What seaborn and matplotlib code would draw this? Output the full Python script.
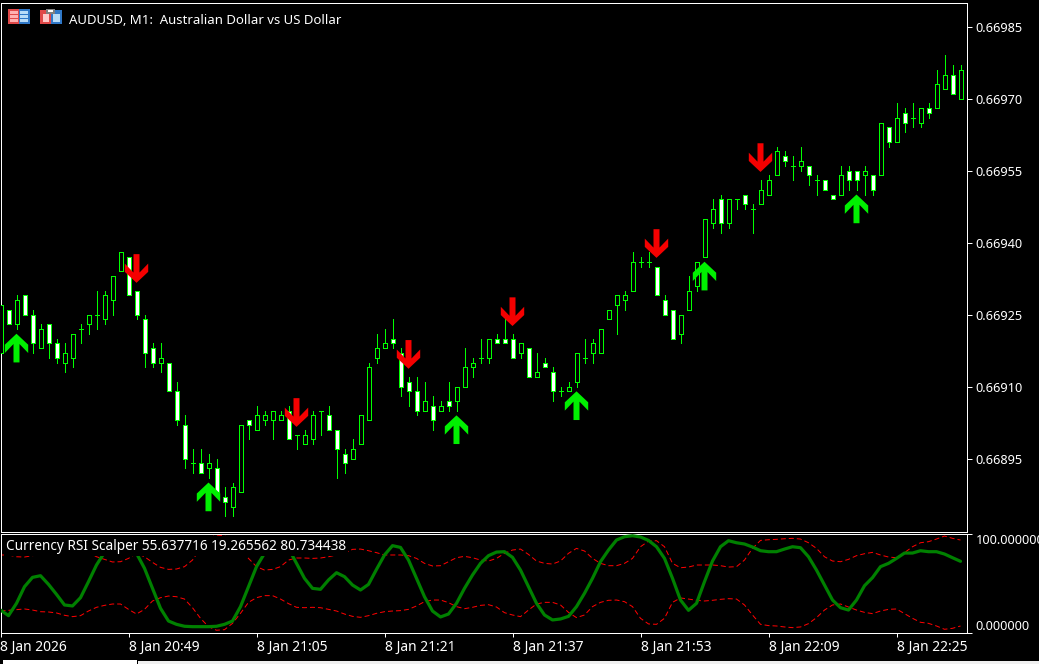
import matplotlib
matplotlib.use("Agg")
import matplotlib.pyplot as plt
import numpy as np
import pandas as pd
import seaborn as sns
from matplotlib.patches import Rectangle
from matplotlib.path import Path
from matplotlib.transforms import ScaledTranslation

# Candle data, in points (1 point = 0.00001)
opens = [66917, 66926, 66923, 66929, 66925, 66918, 66923, 66919, 66915, 66916, 66922,
         66923, 66925, 66924, 66928, 66934, 66937, 66930, 66924, 66918, 66915,
         66915, 66909, 66902, 66894, 66894, 66893, 66893, 66887, 66885, 66888,
         66903, 66901, 66903, 66903, 66903, 66905, 66900, 66898, 66899, 66905,
         66904, 66901, 66896, 66895, 66898, 66903, 66916, 66918, 66920, 66917,
         66911, 66909, 66905, 66906, 66905, 66907, 66907, 66910, 66914, 66916,
         66916, 66920, 66920, 66920, 66917, 66918, 66912, 66915, 66913, 66909,
         66909, 66911, 66916, 66917, 66917, 66924, 66927, 66928, 66930, 66936,
         66936, 66935, 66928, 66926, 66921, 66926, 66931, 66937, 66944, 66949,
         66944, 66949, 66950, 66947, 66948, 66950, 66954, 66958, 66956, 66956,
         66956, 66953, 66953, 66950, 66950, 66955, 66955, 66954, 66954, 66954,
         66964, 66961, 66967, 66966, 66965, 66968, 66968, 66972, 66975, 66970]
highs = [66927, 66926, 66929, 66929, 66926, 66923, 66923, 66920, 66919, 66921, 66923,
         66925, 66930, 66930, 66933, 66938, 66937, 66930, 66925, 66919, 66919,
         66915, 66911, 66904, 66897, 66897, 66896, 66895, 66889, 66890, 66902,
         66903, 66906, 66905, 66905, 66905, 66906, 66900, 66901, 66905, 66905,
         66906, 66901, 66897, 66899, 66904, 66915, 66921, 66922, 66924, 66918,
         66912, 66912, 66911, 66908, 66907, 66911, 66910, 66918, 66916, 66920,
         66920, 66921, 66924, 66921, 66919, 66918, 66917, 66916, 66914, 66910,
         66911, 66917, 66920, 66920, 66922, 66926, 66929, 66930, 66938, 66937,
         66938, 66935, 66929, 66926, 66925, 66933, 66936, 66945, 66949, 66950,
         66949, 66949, 66950, 66948, 66953, 66954, 66960, 66959, 66958, 66960,
         66956, 66954, 66953, 66950, 66956, 66956, 66955, 66956, 66954, 66965,
         66964, 66969, 66968, 66969, 66968, 66969, 66976, 66979, 66977, 66977]
lows = [66917, 66923, 66922, 66925, 66917, 66918, 66916, 66915, 66913, 66914, 66919,
        66921, 66922, 66923, 66925, 66934, 66929, 66924, 66914, 66914, 66913,
        66909, 66902, 66893, 66892, 66892, 66891, 66888, 66883, 66883, 66888,
        66899, 66901, 66902, 66899, 66903, 66899, 66897, 66898, 66898, 66900,
        66901, 66891, 66892, 66895, 66898, 66903, 66915, 66918, 66918, 66908,
        66906, 66904, 66905, 66901, 66905, 66905, 66905, 66910, 66912, 66915,
        66915, 66919, 66919, 66916, 66916, 66912, 66912, 66914, 66907, 66908,
        66909, 66910, 66915, 66915, 66917, 66924, 66921, 66926, 66930, 66935,
        66935, 66929, 66925, 66920, 66919, 66926, 66930, 66937, 66943, 66942,
        66943, 66947, 66947, 66942, 66948, 66950, 66954, 66956, 66953, 66955,
        66952, 66950, 66951, 66949, 66950, 66951, 66951, 66950, 66950, 66954,
        66960, 66961, 66963, 66964, 66964, 66966, 66968, 66972, 66971, 66970]
closes = [66927, 66923, 66928, 66925, 66919, 66922, 66919, 66916, 66917, 66921, 66922,
          66925, 66925, 66929, 66933, 66938, 66929, 66925, 66917, 66915, 66916,
          66909, 66903, 66895, 66894, 66892, 66894, 66888, 66886, 66889, 66902,
          66902, 66904, 66904, 66905, 66904, 66899, 66900, 66900, 66904, 66905,
          66901, 66897, 66894, 66897, 66904, 66914, 66918, 66919, 66919, 66910,
          66909, 66905, 66907, 66903, 66906, 66906, 66910, 66914, 66915, 66916,
          66920, 66919, 66919, 66916, 66919, 66912, 66913, 66914, 66909, 66909,
          66910, 66917, 66916, 66919, 66922, 66926, 66929, 66929, 66936, 66936,
          66936, 66929, 66925, 66920, 66925, 66930, 66936, 66945, 66947, 66944,
          66949, 66949, 66948, 66947, 66951, 66953, 66959, 66957, 66956, 66957,
          66954, 66953, 66951, 66949, 66954, 66953, 66953, 66955, 66951, 66965,
          66961, 66966, 66965, 66966, 66968, 66967, 66973, 66975, 66971, 66976]

# Signal arrows: bar index and the price of the arrow tip
up_bars = [2, 26, 57, 72, 88, 107]
up_tips = [66921, 66890, 66904, 66909, 66936, 66950]
down_bars = [17, 37, 51, 64, 82, 95]
down_tips = [66931.6, 66901.6, 66913.7, 66922.6, 66936.8, 66954.7]

# Currency RSI Scalper
rsi = [22.9, 17.1, 29.8, 46.9, 56.5, 58.2, 49.3, 39.0, 28.1, 27.1, 35.6,
       52.1, 69.2, 82.2, 89.1, 91.4, 89.7, 81.2, 65.8, 45.2, 24.7,
       11.6, 8.2, 6.2, 5.8, 5.8, 5.8, 6.2, 8.2, 11.6, 26.4,
       46.9, 67.5, 81.2, 91.4, 94.9, 86.3, 70.9, 55.5, 45.2, 44.2,
       53.8, 61.3, 57.2, 48.6, 43.5, 49.3, 64.7, 79.5, 89.1, 87.3,
       74.3, 55.5, 36.6, 21.9, 15.8, 18.8, 29.8, 45.2, 58.9, 70.9,
       78.8, 82.5, 82.9, 77.1, 64.0, 46.9, 29.8, 17.8, 12.7, 13.7,
       16.4, 26.4, 40.1, 55.5, 72.6, 84.6, 94.9, 98.3, 99.3, 98.0,
       94.5, 88.0, 76.0, 55.5, 33.2, 22.6, 29.8, 52.1, 73.3, 88.0,
       94.2, 92.1, 90.8, 87.7, 83.9, 82.9, 82.9, 85.6, 88.0, 87.0,
       77.7, 64.0, 48.6, 33.2, 25.3, 22.9, 33.2, 47.9, 56.2, 67.5,
       70.9, 76.0, 81.5, 81.5, 83.9, 82.9, 82.9, 80.5, 76.7, 73.0]
band_upper = [79.5, 79.5, 77.7, 77.4, 78.8, 80.1, 80.1, 80.1, 82.9, 83.6, 83.6,
              82.2, 77.7, 75.0, 72.3, 72.6, 76.0, 81.2, 77.7, 71.9, 66.8,
              64.7, 65.1, 67.5, 74.3, 86.3, 96.6, 100.0, 99.3, 93.2, 84.6,
              76.0, 67.5, 64.0, 64.7, 67.5, 74.3, 76.4, 76.4, 76.0, 76.4,
              77.7, 79.5, 81.2, 85.3, 85.6, 83.9, 81.9, 79.5, 79.5, 79.5,
              78.8, 76.0, 70.9, 68.2, 68.5, 72.6, 76.7, 78.1, 76.7, 74.3,
              73.3, 76.0, 81.2, 84.6, 85.6, 80.1, 73.3, 70.9, 70.2, 73.3,
              81.2, 86.3, 83.6, 76.0, 70.9, 68.5, 68.5, 70.9, 76.0, 88.0,
              93.8, 94.2, 88.0, 70.9, 66.4, 67.1, 69.2, 69.2, 69.2, 68.5,
              67.1, 67.5, 74.3, 86.3, 94.5, 95.2, 95.6, 96.2, 96.6, 95.9,
              92.1, 86.3, 77.7, 73.3, 72.6, 75.0, 78.8, 80.8, 82.2, 79.5,
              77.4, 76.7, 81.9, 88.0, 92.1, 93.2, 95.9, 99.0, 96.6, 94.9]
band_lower = [21.9, 22.6, 23.3, 24.0, 22.9, 21.2, 20.9, 19.9, 17.5, 16.1, 17.1,
              21.9, 25.7, 27.7, 29.1, 29.1, 23.6, 18.8, 23.6, 32.2, 35.6,
              37.3, 36.6, 34.2, 25.3, 14.4, 5.8, 2.1, 2.7, 9.2, 19.5,
              30.8, 35.6, 37.7, 37.7, 34.2, 29.5, 25.7, 25.3, 25.7, 25.3,
              23.6, 21.9, 18.8, 16.4, 15.4, 17.1, 19.5, 21.2, 21.9, 22.3,
              23.6, 27.1, 31.5, 33.2, 33.2, 30.5, 26.4, 24.3, 25.7, 27.7,
              28.4, 26.0, 20.2, 17.8, 16.1, 22.9, 29.1, 30.8, 30.8, 28.1,
              20.5, 15.1, 17.8, 26.4, 30.8, 32.9, 33.2, 31.5, 26.4, 14.4,
              8.6, 8.2, 14.4, 30.8, 35.3, 34.2, 32.9, 32.2, 32.9, 33.9,
              34.6, 34.2, 28.1, 17.8, 8.2, 6.9, 6.5, 5.5, 4.8, 5.5,
              8.9, 15.1, 22.9, 28.1, 29.1, 26.0, 22.9, 20.5, 19.2, 21.9,
              23.6, 24.0, 19.2, 14.4, 10.3, 9.2, 6.5, 3.1, 4.1, 6.5]

price_ticks = [66895, 66910, 66925, 66940, 66955, 66970, 66985]
time_ticks = [0, 16, 32, 48, 64, 80, 96, 112]
time_labels = ['8 Jan 2026', '8 Jan 20:49', '8 Jan 21:05', '8 Jan 21:21',
               '8 Jan 21:37', '8 Jan 21:53', '8 Jan 22:09', '8 Jan 22:25']

W, H = 1039, 664

sns.set_theme(style="dark", rc={
    "figure.facecolor": "black", "axes.facecolor": "black",
    "axes.edgecolor": "white", "axes.linewidth": 0.72,
    "xtick.color": "white", "ytick.color": "white",
    "xtick.bottom": True, "ytick.right": True,
    "text.color": "white", "axes.grid": False,
})
plt.rcParams['font.family'] = ['Noto Sans', 'DejaVu Sans']


def px_box(x0, y0, x1, y1):
    # pixel box (y from the top) to figure coordinates
    return [x0 / W, 1 - y1 / H, (x1 - x0) / W, (y1 - y0) / H]


fig = plt.figure(figsize=(W / 100, H / 100), dpi=100)
ax = fig.add_axes(px_box(0.5, 2.5, 966.5, 531.5))
ax2 = fig.add_axes(px_box(0.5, 533.5, 966.5, 632.5))

df = pd.DataFrame({'open': opens, 'high': highs, 'low': lows, 'close': closes})
df['bar'] = df.index
df['top'] = df[['open', 'close']].max(axis=1)
df['bottom'] = df[['open', 'close']].min(axis=1)
df['fill'] = np.where(df['close'] >= df['open'], 'black', 'white')

# Candles
ax.vlines(df['bar'], df['low'], df['high'], color='#00ff00', linewidth=0.72,
          antialiased=False, zorder=2)
ax.bar(df['bar'], df['top'] - df['bottom'], bottom=df['bottom'], width=0.5,
       color=df['fill'], edgecolor='#00ff00', linewidth=0.72, antialiased=False, zorder=3)

# Arrow markers, tip at the origin so the data point is the tip
up_path = Path([(0, 0), (11.7, -11), (11.7, -19.3), (3, -10.3), (3, -28.7),
                (-3, -28.7), (-3, -10.3), (-11.7, -19.3), (-11.7, -11), (0, 0)], closed=True)
down_path = Path(up_path.vertices * [1, -1], closed=True)
arrow_size = (2 * 28.7 * 0.72) ** 2
sns.scatterplot(x=up_bars, y=up_tips, marker=up_path, s=arrow_size, color='#00f000',
                edgecolor='none', linewidth=0, ax=ax, zorder=5, legend=False)
sns.scatterplot(x=down_bars, y=down_tips, marker=down_path, s=arrow_size, color='#f50000',
                edgecolor='none', linewidth=0, ax=ax, zorder=5, legend=False)

ax.set_xlim(0, 120.75)
ax.set_ylim(66879.8, 66990.0)
ax.set_xticks([])
ax.yaxis.tick_right()
ax.set_yticks(price_ticks)
ax.set_yticklabels(['%.5f' % (p / 1e5) for p in price_ticks], fontsize=9.2)
ax.tick_params(axis='y', length=3.6, width=0.72, pad=3)
ax.set_xlabel('')
ax.set_ylabel('')

# Oscillator panel
osc = pd.DataFrame({'bar': range(len(rsi)), 'rsi': rsi, 'upper': band_upper, 'lower': band_lower})
for col in ['upper', 'lower']:
    sns.lineplot(data=osc, x='bar', y=col, color='#ff0000', linewidth=0.72,
                 linestyle=(0, (5, 3)), ax=ax2, zorder=2)
sns.lineplot(data=osc, x='bar', y='rsi', color='#008000', linewidth=2.3, ax=ax2, zorder=3)

ax2.set_xlim(0, 120.75)
ax2.set_ylim(-0.2, 101.6)
ax2.yaxis.tick_right()
ax2.set_yticks([-0.2, 101.6])
ax2.set_yticklabels(['0.000000', '100.000000'], fontsize=9.2)
ax2.get_yticklabels()[0].set_va('bottom')
ax2.get_yticklabels()[1].set_va('top')
top_label = ax2.get_yticklabels()[1]
top_label.set_transform(top_label.get_transform() + ScaledTranslation(0, -0.02, fig.dpi_scale_trans))
ax2.tick_params(axis='y', length=3.6, width=0.72, pad=3)
ax2.set_xticks(time_ticks)
ax2.set_xticklabels(time_labels, fontsize=10, ha='left')
ax2.tick_params(axis='x', length=3, width=0.72, pad=2)
ax2.set_xlabel('')
ax2.set_ylabel('')

ax2.text(6 / W, 1 - 546 / H, 'Currency RSI Scalper 55.637716 19.265562 80.734438',
         transform=fig.transFigure, fontsize=9.8, color='white', va='center', ha='left',
         zorder=10, bbox=dict(facecolor='black', edgecolor='none', pad=1.5))
fig.text(69 / W, 1 - 20 / H, 'AUDUSD, M1:  Australian Dollar vs US Dollar',
         fontsize=9.5, color='white', va='center', ha='left')


def px_rect(x0, y0, x1, y1, color):
    b = px_box(x0, y0, x1, y1)
    fig.add_artist(Rectangle((b[0], b[1]), b[2], b[3], transform=fig.transFigure,
                             facecolor=color, edgecolor='none', zorder=20))


# Tab strip along the bottom
px_rect(3, 660, 137, 664, 'white')
px_rect(138, 661, 1039, 664, '#f0f0f0')

# Two toolbar icons in the top left corner
px_rect(8, 9, 19, 24, '#e04848')
px_rect(19, 9, 30, 24, '#2f78c8')
for y in (11, 15, 19):
    px_rect(10, y, 18, y + 3, '#ffb0b0')
    px_rect(20, y, 28, y + 3, '#b8dcf8')
px_rect(40, 10, 51, 24, '#e04848')
px_rect(43, 14, 49, 22, '#ffc8c8')
px_rect(51, 10, 62, 24, '#2f78c8')
px_rect(53, 14, 60, 22, '#b8dcf8')
px_rect(46, 9, 55, 14, '#808080')
px_rect(48, 10, 53, 12, 'white')

fig.savefig('out.png', dpi=100, facecolor='black')
